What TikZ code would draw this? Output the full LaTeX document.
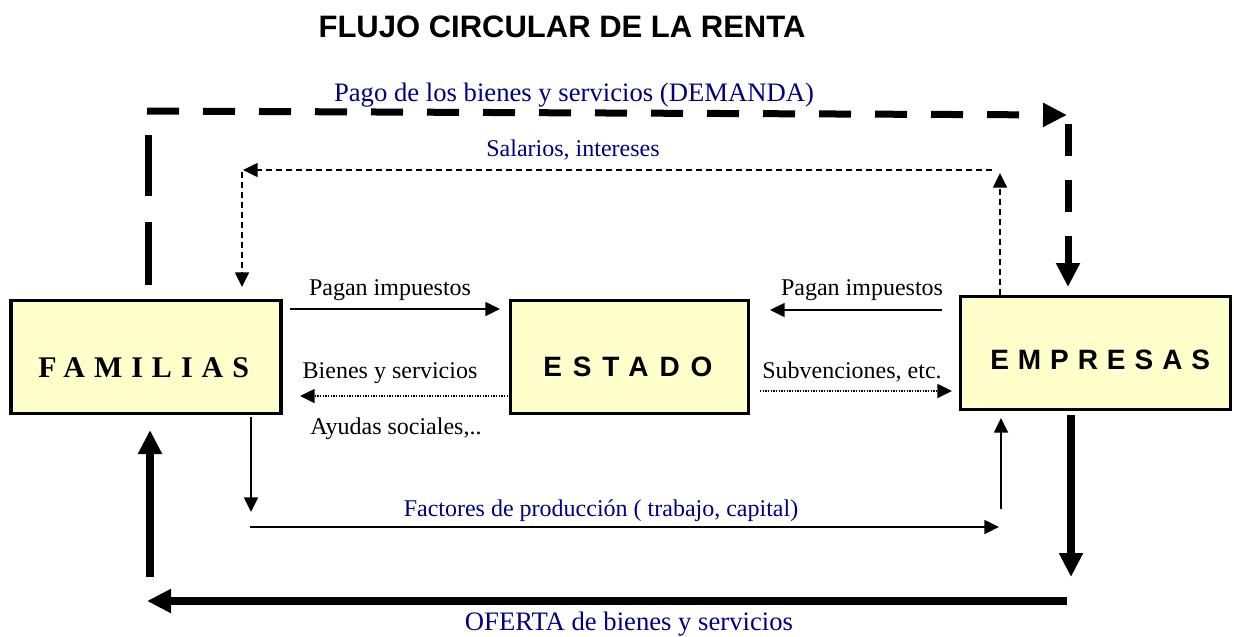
\documentclass[tikz,border=0pt]{standalone}
\usepackage{fontspec}
\setmainfont{Liberation Serif}
\newfontfamily\arialfont{Liberation Sans}
\newfontfamily\famfont[LetterSpace=30]{Liberation Serif}
\newfontfamily\estfont[LetterSpace=39]{Liberation Sans}
\newfontfamily\empfont[LetterSpace=32]{Liberation Sans}
\usetikzlibrary{arrows.meta}
\definecolor{boxfill}{HTML}{FFFFCC}
\definecolor{navyb}{HTML}{000080}
\begin{document}
\begin{tikzpicture}[x=0.75pt,y=-0.75pt,
  box/.style={draw=black,line width=2.6pt,fill=boxfill,inner sep=0pt},
  lbl/.style={anchor=base,inner sep=0pt,font=\fontsize{18pt}{20pt}\selectfont},
  blbl/.style={lbl,text=navyb},
  bigfont/.style={font=\fontsize{20pt}{22pt}\selectfont},
  boxtext/.style={anchor=base west,inner sep=0pt},
  thinarrow/.style={line width=1.1pt,-{Triangle[length=11pt,width=10.5pt]}},
  thindash/.style={thinarrow,dash pattern=on 4.5pt off 3pt},
  thindot/.style={thinarrow,dash pattern=on 1pt off 1pt},
  thickarrow/.style={line width=6pt,-{Triangle[length=18pt,width=17pt]}},
  thickdash/.style={line width=5.25pt,dash pattern=on 24pt off 18pt}
]
\useasboundingbox (0,0) rectangle (1234,636);

% title
\node[anchor=base,inner sep=0pt,font=\arialfont\bfseries\fontsize{23.25pt}{26pt}\selectfont] (title) at (562,37) {FLUJO CIRCULAR DE LA RENTA};

% boxes
\node[box,minimum width=202.5pt,minimum height=84.75pt] (fam) at (146,357) {};
\node[box,minimum width=178.5pt,minimum height=84.75pt] (est) at (629.5,357) {};
\node[box,minimum width=202.5pt,minimum height=84.75pt] (emp) at (1095.5,353) {};
\node[boxtext,font=\famfont\bfseries\fontsize{22.5pt}{24pt}\selectfont] (famt) at (38,377) {FAMILIAS};
\node[boxtext,font=\estfont\bfseries\fontsize{21pt}{23pt}\selectfont] (estt) at (543,376) {ESTADO};
\node[boxtext,font=\empfont\bfseries\fontsize{21pt}{23pt}\selectfont] (empt) at (990,369) {EMPRESAS};

% labels
\node[blbl,bigfont] (pago) at (574,101) {Pago de los bienes y servicios (DEMANDA)};
\node[blbl] (sal) at (573,156) {Salarios, intereses};
\node[lbl] (pi1) at (390,295) {Pagan impuestos};
\node[lbl] (pi2) at (862,295) {Pagan impuestos};
\node[lbl] (bys) at (390,378) {Bienes y servicios};
\node[lbl] (ayu) at (396,434) {Ayudas sociales,..};
\node[lbl] (sub) at (852,378) {Subvenciones, etc.};
\node[blbl] (fac) at (601,516) {Factores de producción ( trabajo, capital)};
\node[blbl,bigfont] (ofe) at (629,630) {OFERTA de bienes y servicios};

% coordinates
\coordinate (d1) at (148,285); \coordinate (d2) at (148,135);
\coordinate (d3) at (147,111); \coordinate (d4) at (1067,115);
\coordinate (d5) at (1068,124); \coordinate (d6) at (1068,287);
\coordinate (s1) at (1000,295); \coordinate (s2) at (1000,173);
\coordinate (s3) at (992,170); \coordinate (s4) at (243,170);
\coordinate (s5) at (242,172); \coordinate (s6) at (242,287);
\coordinate (p1) at (290,309); \coordinate (p2) at (500,309);
\coordinate (p3) at (942,310); \coordinate (p4) at (770,310);
\coordinate (b1) at (508,396); \coordinate (b2) at (300,396);
\coordinate (b3) at (760,391); \coordinate (b4) at (952,391);
\coordinate (f1) at (251,417); \coordinate (f2) at (251,512);
\coordinate (f3) at (250,527); \coordinate (f4) at (999,527);
\coordinate (f5) at (1001,509); \coordinate (f6) at (1001,418);
\coordinate (o1) at (1071,415); \coordinate (o2) at (1071,577);
\coordinate (o3) at (1067,601); \coordinate (o4) at (147,601);
\coordinate (o5) at (150,577); \coordinate (o6) at (150,430);

% demanda (thick dashed)
\draw[thickdash,dash pattern=on 47pt off 20pt] (d1) -- (d2);
\draw[thickdash,-{Triangle[length=18pt,width=17pt]}] (d3) -- (d4);
\draw[thickdash,-{Triangle[length=18pt,width=17pt]}] (d5) -- (d6);

% salarios (thin dashed)
\draw[thindash] (s1) -- (s2);
\draw[thindash] (s3) -- (s4);
\draw[thindash] (s5) -- (s6);

% estado flows
\draw[thinarrow] (p1) -- (p2);
\draw[thinarrow] (p3) -- (p4);
\draw[thindot] (b1) -- (b2);
\draw[thindot] (b3) -- (b4);

% factores
\draw[thinarrow] (f1) -- (f2);
\draw[thinarrow] (f3) -- (f4);
\draw[thinarrow] (f5) -- (f6);

% oferta (thick solid)
\draw[thickarrow] (o1) -- (o2);
\draw[thickarrow] (o3) -- (o4);
\draw[thickarrow] (o5) -- (o6);
\end{tikzpicture}
\end{document}
